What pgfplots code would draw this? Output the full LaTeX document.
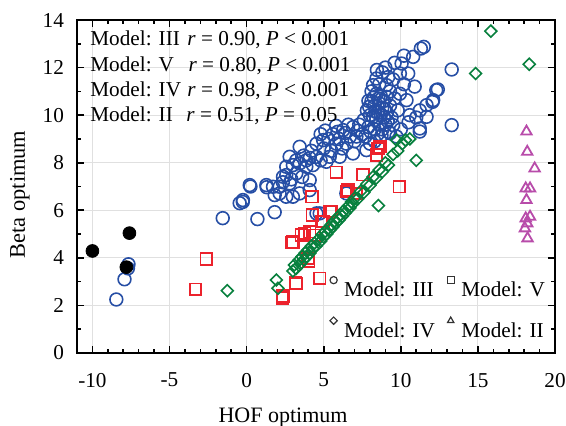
\documentclass[border=0pt]{standalone}
\usepackage{fontspec}
\setmainfont{Liberation Serif}
\usepackage{pgfplots}
\pgfplotsset{compat=1.18}
\definecolor{cBlue}{RGB}{38,78,165}
\definecolor{cRed}{RGB}{236,34,44}
\definecolor{cGreen}{RGB}{8,128,62}
\definecolor{cMag}{RGB}{184,76,170}
\pgfplotsset{
  legimg/.style={legend image code/.code={\draw[##1] plot coordinates {(3pt,5.5pt)}; \path (0pt,0pt) (6pt,0pt);}},
  legimgd/.style={legend image code/.code={\draw[##1, mark size=1.3pt] plot coordinates {(3pt,5.5pt)}; \path (0pt,0pt) (6pt,0pt);}},
}
\pgfplotstableread{
x y
-8.45 2.25
-7.92 3.10
-7.66 3.73
-7.70 3.56
-1.55 5.67
-0.45 6.30
-0.25 6.35
0.70 5.63
0.25 7.00
-0.24 6.43
0.20 7.06
1.28 7.06
1.30 6.97
1.82 5.92
1.82 6.64
1.71 6.99
2.14 6.99
2.14 6.71
2.35 7.18
2.57 7.48
2.57 6.57
2.79 7.13
3.00 6.57
3.22 7.55
3.44 6.71
2.36 7.41
2.57 7.83
2.79 8.25
3.22 8.10
3.44 7.97
3.44 8.67
3.87 7.83
3.87 8.10
4.09 7.27
4.09 6.85
4.53 5.87
4.53 8.25
4.53 8.80
4.74 5.87
4.96 8.95
5.17 8.04
5.39 8.25
5.60 9.20
5.82 8.80
6.04 8.25
6.26 9.37
6.47 8.80
6.47 6.71
6.90 8.39
6.90 9.50
7.12 9.10
7.77 8.53
3.70 8.30
4.20 8.50
4.80 8.10
5.00 8.60
5.30 9.00
5.50 8.50
5.90 9.30
6.20 8.60
6.70 9.10
7.00 8.90
7.30 9.60
7.50 9.20
4.30 7.90
3.00 7.90
2.90 7.30
3.60 7.40
5.80 9.55
6.60 9.60
4.80 9.20
5.10 9.35
6.00 9.00
6.40 9.25
7.20 9.35
4.10 8.20
7.60 9.80
7.80 10.20
7.90 9.50
8.00 10.00
8.10 10.60
8.20 9.93
8.20 11.26
8.30 9.40
8.30 10.40
8.40 9.80
8.42 10.90
8.42 11.54
8.50 10.10
8.50 9.20
8.60 10.50
8.60 9.60
8.70 10.00
8.70 10.80
8.80 9.40
8.80 10.30
8.90 9.90
8.90 10.60
9.00 9.60
9.07 10.77
9.07 11.26
9.10 10.10
9.18 11.60
9.20 9.30
9.30 10.40
9.30 9.24
9.40 9.90
9.50 9.58
9.60 10.70
9.72 9.10
7.70 9.10
8.00 8.80
8.30 8.90
7.90 10.60
8.10 11.00
8.45 11.90
8.60 11.30
8.80 11.80
9.00 12.00
9.30 11.00
8.05 9.30
8.35 10.15
8.75 9.15
7.95 10.35
8.55 10.70
8.95 10.25
9.15 9.75
8.25 10.75
9.94 11.75
10.05 12.17
10.48 11.75
10.80 12.45
11.49 12.87
11.30 12.80
9.94 10.90
10.37 10.63
10.20 11.30
10.58 10.00
11.23 10.20
11.67 10.42
12.10 10.63
12.30 11.05
11.67 9.93
11.23 9.44
11.23 9.31
12.06 10.56
12.40 11.08
13.30 11.92
13.30 9.58
10.00 9.40
10.50 9.70
9.80 10.20
10.90 11.20
11.00 9.90
10.20 12.50
9.60 12.20
9.50 11.50
}\tblIII
\pgfplotstableread{
x y
-3.31 2.68
-2.62 3.95
2.32 2.32
2.36 2.40
3.18 2.95
3.22 2.92
3.00 4.67
2.94 4.64
3.55 4.96
3.77 5.03
4.03 3.87
3.98 3.97
4.09 5.10
4.26 5.80
4.24 6.57
4.74 3.14
4.96 5.53
4.85 5.52
5.39 5.95
5.50 5.95
5.82 7.60
6.47 6.79
6.58 6.85
7.12 6.71
7.55 7.50
8.42 8.32
8.53 8.60
8.64 8.67
9.90 6.99
4.40 4.95
}\tblV
\pgfplotstableread{
x y
-1.25 2.62
1.93 3.07
2.03 2.72
15.84 13.53
18.33 12.14
14.85 11.75
11.00 8.10
8.55 6.20
10.58 9.00
9.72 8.95
3.0 3.45
3.1 3.70
3.2 3.55
3.4 3.90
3.5 3.75
3.6 4.05
3.7 3.92
3.8 4.20
3.9 4.05
4.0 4.35
4.1 4.20
4.2 4.50
4.3 4.40
4.4 4.62
4.5 4.50
4.6 4.75
4.8 4.70
4.9 4.98
5.0 4.88
5.1 5.12
5.2 5.00
5.3 5.25
5.4 5.18
5.5 5.40
5.6 5.30
5.7 5.55
5.8 5.48
5.9 5.70
6.0 5.60
6.1 5.82
6.2 5.75
6.3 5.98
6.4 5.90
6.6 6.18
6.7 6.10
6.8 6.35
6.9 6.28
7.0 6.50
7.2 6.48
7.4 6.80
7.6 6.75
7.8 7.10
8.0 7.05
8.2 7.40
8.4 7.35
8.6 7.70
8.8 7.62
9.0 8.00
9.2 7.90
9.5 8.35
9.8 8.50
10.1 8.80
10.3 8.95
}\tblIV
\pgfplotstableread{
x y
18.15 9.31
18.20 8.46
18.68 7.76
18.10 6.92
18.38 6.92
18.15 6.43
18.10 5.66
18.38 5.73
18.05 5.24
18.22 4.82
18.20 5.45
}\tblII
\pgfplotstableread{
x y
-10.0 4.29
-7.6 5.04
-7.8 3.61
}\tblBlack
\begin{document}
\begin{tikzpicture}[font=\fontsize{10.6pt}{12.7pt}\selectfont]
\useasboundingbox (-38.5pt,-36pt) rectangle (244.5pt,176.5pt);
\begin{axis}[
  at={(0pt,0pt)}, anchor=south west,
  scale only axis, width=239pt, height=166.5pt,
  xmin=-11, xmax=20, ymin=0, ymax=14,
  xtick={-10,-5,0,5,10,15,20},
  xticklabels={-10,-5,0,5,10,15,20},
  ytick={0,2,4,6,8,10,12,14},
  yticklabels={0,2,4,6,8,10,12,14},
  minor x tick num=4, minor y tick num=1,
  tick align=inside,
  major tick length=3.5pt, minor tick length=2.2pt,
  every tick/.style={black, line width=0.8pt},
  axis line style={line width=1pt},
  grid=major,
  major grid style={black!12, line width=0.5pt},
  xticklabel style={yshift=-6.5pt},
  yticklabel style={xshift=-3pt},
  legend columns=2,
  legend style={draw=none, fill=none, at={(axis cs:4.8,3.4)}, anchor=north west,
    row sep=6.5pt, font=\fontsize{10.6pt}{12.7pt}\selectfont,
    /tikz/every even column/.append style={column sep=2.6pt}},
  legend cell align=left,
  legend image post style={black!80, mark size=1.8pt, line width=0.6pt},
]
\addplot[only marks, mark=o, color=cBlue, mark size=3.2pt, line width=0.8pt, legimg] table {\tblIII};
\addlegendentry{Model: III}
\addplot[only marks, mark=square, color=cRed, mark size=2.9pt, line width=0.9pt, legimg] table {\tblV};
\addlegendentry{Model: V}
\addplot[only marks, mark=square, mark options={rotate=45}, color=cGreen, mark size=2.1pt, line width=0.8pt, legimgd] table {\tblIV};
\addlegendentry{Model: IV}
\addplot[only marks, mark=triangle, color=cMag, mark size=3pt, line width=0.9pt, legimg] table {\tblII};
\addlegendentry{Model: II}
\addplot[only marks, mark=*, color=black, mark size=3.2pt, forget plot] table {\tblBlack};
\end{axis}
\node[anchor=base west, inner sep=0pt] at (6.5pt,153.6pt) {Model: III};
\node[anchor=base west, inner sep=0pt] at (55pt,153.6pt) {\textit{r} = 0.90, \textit{P} < 0.001};
\node[anchor=base west, inner sep=0pt] at (6.5pt,141.0pt) {Model: V};
\node[anchor=base west, inner sep=0pt] at (55.6pt,141.0pt) {\textit{r} = 0.80, \textit{P} < 0.001};
\node[anchor=base west, inner sep=0pt] at (6.5pt,128.3pt) {Model: IV};
\node[anchor=base west, inner sep=0pt] at (55pt,128.3pt) {\textit{r} = 0.98, \textit{P} < 0.001};
\node[anchor=base west, inner sep=0pt] at (6.5pt,115.7pt) {Model: II};
\node[anchor=base west, inner sep=0pt] at (54.5pt,115.7pt) {\textit{r} = 0.51, \textit{P} = 0.05};
\node[rotate=90, anchor=base, inner sep=0pt, font=\fontsize{11.2pt}{13pt}\selectfont] at (-26pt,79.3pt) {Beta optimum};
\node[anchor=base, inner sep=0pt, font=\fontsize{11pt}{13pt}\selectfont] at (103pt,-34.5pt) {HOF optimum};
\end{tikzpicture}
\end{document}
